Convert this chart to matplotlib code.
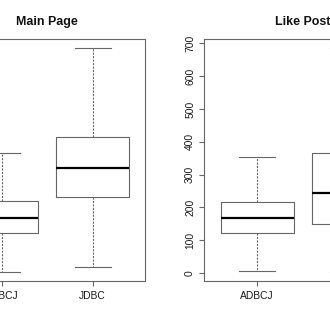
import matplotlib
matplotlib.use("Agg")
import matplotlib.pyplot as plt

plt.rcParams['font.family'] = ['Liberation Sans', 'DejaVu Sans']

groups = ["ADBCJ", "JDBC"]
panel_titles = ["Main Page", "Like Post"]

# five-number summaries per group: low whisker, Q1, median, Q3, high whisker
main_low = [5, 20]
main_q1 = [125, 234]
main_med = [168, 320]
main_q3 = [222, 415]
main_high = [368, 685]

like_low = [5, 3]
like_q1 = [122, 150]
like_med = [167, 243]
like_q3 = [215, 365]
like_high = [353, 685]

y_ticks = [0, 100, 200, 300, 400, 500, 600, 700]

EDGE = "#666666"


def make_stats(low, q1, med, q3, high):
    return [dict(whislo=lo, q1=a, med=m, q3=b, whishi=hi, fliers=[], label=g)
            for lo, a, m, b, hi, g in zip(low, q1, med, q3, high, groups)]


def draw_panel(ax, title, low, q1, med, q3, high):
    stats = make_stats(low, q1, med, q3, high)
    ax.bxp(stats, positions=[1, 2], widths=0.8, capwidths=0.4,
           showfliers=False, patch_artist=False,
           boxprops=dict(color=EDGE, linewidth=0.8),
           medianprops=dict(color="black", linewidth=1.6, solid_capstyle="butt"),
           whiskerprops=dict(color=EDGE, linewidth=0.8, linestyle=(0, (1.9, 1.2))),
           capprops=dict(color=EDGE, linewidth=0.8))
    lo = min(low)
    hi = max(high)
    span = hi - lo
    ax.set_ylim(lo - 0.04 * span, hi + 0.04 * span)
    ax.set_xlim(0.42, 2.58)
    ax.set_xticks([1, 2])
    ax.set_xticklabels(groups)
    ax.set_yticks(y_ticks)
    ax.set_yticklabels([str(t) for t in y_ticks], rotation=90, va="center", ha="right")
    ax.tick_params(axis="both", colors=EDGE, labelcolor="#1a1a1a", labelsize=7.4,
                   length=3.3, width=0.8)
    ax.tick_params(axis="x", pad=4.0)
    ax.tick_params(axis="y", pad=3.4)
    for s in ax.spines.values():
        s.set_color(EDGE)
        s.set_linewidth(0.8)
    ax.set_title(title, fontsize=8.9, fontweight="bold", pad=10.3, color="#111111")


fig = plt.figure(figsize=(3.3, 3.3), dpi=100)
W = 330.0
ax_w = 196.6 / W
ax_b = (330 - 281) / W
ax_h = 241.7 / W
ax1 = fig.add_axes([-51.1 / W, ax_b, ax_w, ax_h])
ax2 = fig.add_axes([204.4 / W, ax_b, ax_w, ax_h])

draw_panel(ax1, panel_titles[0], main_low, main_q1, main_med, main_q3, main_high)
draw_panel(ax2, panel_titles[1], like_low, like_q1, like_med, like_q3, like_high)

fig.savefig("out.png", dpi=100, facecolor="white")
